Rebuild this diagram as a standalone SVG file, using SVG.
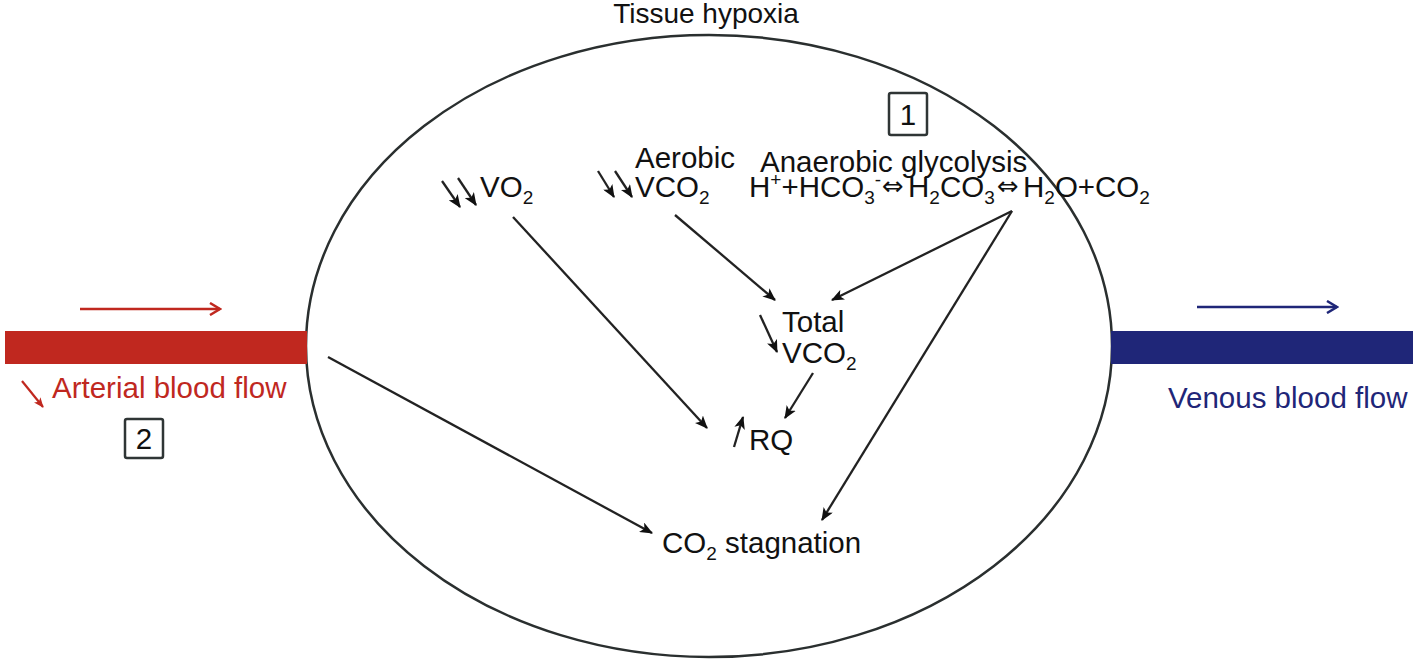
<svg xmlns="http://www.w3.org/2000/svg" width="1416" height="661" viewBox="0 0 1416 661">
<defs>
<style>
.t{font-family:"Liberation Sans",Arial,sans-serif;font-size:29.5px;fill:#111}
.s{font-size:19px}
.ar{font-family:"DejaVu Sans",sans-serif;font-size:26px}
.c{stroke:#222;stroke-width:2.3;fill:none;marker-end:url(#ah)}
.box{fill:#fff;stroke:#2f3535;stroke-width:2.5}
</style>
<marker id="ah" viewBox="0 0 12 10" refX="11" refY="5" markerWidth="13" markerHeight="11" markerUnits="userSpaceOnUse" orient="auto">
<path d="M0,0 L12,5 L0,10 L3,5 Z" fill="#111"/>
</marker>
<marker id="ahr" viewBox="0 0 14 14" refX="12" refY="7" markerWidth="14" markerHeight="14" markerUnits="userSpaceOnUse" orient="auto">
<path d="M2,1 L12,7 L2,13" fill="none" stroke="#c0281f" stroke-width="2.5"/>
</marker>
<marker id="ahr2" viewBox="0 0 12 10" refX="11" refY="5" markerWidth="10" markerHeight="9" markerUnits="userSpaceOnUse" orient="auto">
<path d="M0,0 L12,5 L0,10 L3,5 Z" fill="#c0281f"/>
</marker>
<marker id="ahb" viewBox="0 0 14 14" refX="12" refY="7" markerWidth="14" markerHeight="14" markerUnits="userSpaceOnUse" orient="auto">
<path d="M2,1 L12,7 L2,13" fill="none" stroke="#1f2678" stroke-width="2.5"/>
</marker>
</defs>
<rect width="1416" height="661" fill="#fff"/>

<g id="tissue">
<ellipse cx="709" cy="346" rx="403" ry="311" fill="none" stroke="#2a2f2f" stroke-width="2.5"/>
<text class="t" x="706" y="23" text-anchor="middle" style="font-size:28px">Tissue hypoxia</text>
</g>

<g id="arterial">
<rect x="5" y="331" width="302" height="33" fill="#c0281f"/>
<line x1="80" y1="309" x2="220" y2="309" stroke="#c0281f" stroke-width="2.5" marker-end="url(#ahr)"/>
<line x1="22" y1="381" x2="43" y2="407" stroke="#c0281f" stroke-width="2.2" marker-end="url(#ahr2)"/>
<text class="t" x="52" y="398" style="fill:#c0281f">Arterial blood flow</text>
</g>

<g id="box2">
<rect class="box" x="125" y="419" width="38" height="39" rx="2"/>
<text class="t" x="144" y="449" text-anchor="middle">2</text>
</g>

<g id="venous">
<rect x="1111" y="331" width="302" height="33" fill="#1f2678"/>
<line x1="1197" y1="307" x2="1337" y2="307" stroke="#1f2678" stroke-width="2.5" marker-end="url(#ahb)"/>
<text class="t" x="1168" y="408" style="fill:#1f2678">Venous blood flow</text>
</g>

<g id="box1">
<rect class="box" x="889" y="93" width="38" height="42" rx="2"/>
<text class="t" x="908" y="125" text-anchor="middle">1</text>
</g>

<g id="vo2">
<line class="c" x1="442" y1="181" x2="460" y2="207"/>
<line class="c" x1="458" y1="178" x2="476" y2="205"/>
<text class="t" x="480" y="197">VO<tspan class="s" dy="7">2</tspan></text>
</g>

<g id="aerobic">
<line class="c" x1="598" y1="171" x2="614" y2="197"/>
<line class="c" x1="615" y1="171" x2="632" y2="197"/>
<text class="t" x="635" y="168">Aerobic<tspan x="635" y="197">VCO</tspan><tspan class="s" dy="7">2</tspan></text>
</g>

<g id="anaerobic">
<text class="t" x="760" y="172">Anaerobic glycolysis<tspan x="749" y="197">H</tspan><tspan class="s" dy="-11">+</tspan><tspan dy="11">+HCO</tspan><tspan class="s" dy="7">3</tspan><tspan class="s" dy="-18">-</tspan><tspan class="ar" x="882" y="195">⇔</tspan><tspan x="908" y="197">H</tspan><tspan class="s" dy="7">2</tspan><tspan dy="-7">CO</tspan><tspan class="s" dy="7">3</tspan><tspan class="ar" x="997" y="195">⇔</tspan><tspan x="1023" y="197">H</tspan><tspan class="s" dy="7">2</tspan><tspan dy="-7">O+CO</tspan><tspan class="s" dy="7">2</tspan></text>
</g>

<g id="total">
<line class="c" x1="760" y1="315" x2="777" y2="352"/>
<text class="t" x="782" y="332">Total<tspan x="782" y="363">VCO</tspan><tspan class="s" dy="7">2</tspan></text>
</g>

<g id="rq">
<line class="c" x1="734" y1="447" x2="743" y2="417"/>
<text class="t" x="749" y="450">RQ</text>
</g>

<g id="stagnation">
<text class="t" x="662" y="553">CO<tspan class="s" dy="7">2</tspan><tspan dy="-7"> stagnation</tspan></text>
</g>

<g id="connectors">
<line class="c" x1="675" y1="215" x2="775" y2="300"/>
<line class="c" x1="1012" y1="211" x2="832" y2="300"/>
<line class="c" x1="1012" y1="211" x2="822" y2="520"/>
<line class="c" x1="513" y1="217" x2="707" y2="428"/>
<line class="c" x1="813" y1="373" x2="785" y2="418"/>
<line class="c" x1="328" y1="357" x2="652" y2="533"/>
</g>
</svg>
